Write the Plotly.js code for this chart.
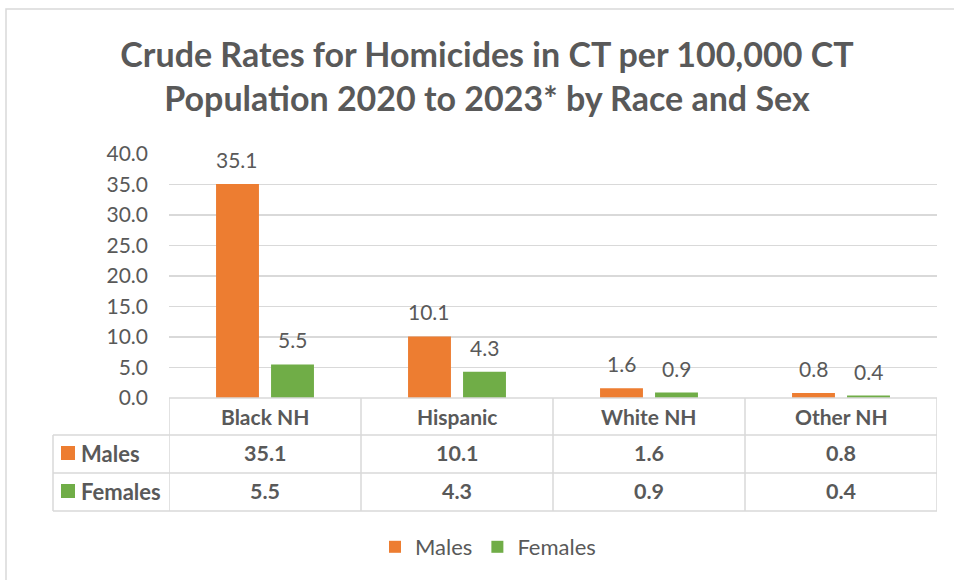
<!DOCTYPE html>
<html>
<head>
<meta charset="utf-8">
<script src="https://cdn.plot.ly/plotly-3.0.1.min.js"></script>
<style>html,body{margin:0;padding:0;background:#fff;}#chart{width:954px;height:580px;}</style>
</head>
<body>
<div id="chart"></div>
<script>
const categories = ["Black NH", "Hispanic", "White NH", "Other NH"];
const males = [35.1, 10.1, 1.6, 0.8];
const females = [5.5, 4.3, 0.9, 0.4];
const seriesNames = ["Males", "Females"];
const yTicks = [0, 5, 10, 15, 20, 25, 30, 35, 40];

const W = 954, H = 580;
const M = {l: 169, r: 17, t: 154, b: 182};
const PW = W - M.l - M.r, PH = H - M.t - M.b;
const xp = px => (px - M.l) / PW;
const yp = py => (H - M.b - py) / PH;

const ORANGE = "#ED7D31", GREEN = "#70AD47", TXT = "#595959", GRID = "#d9d9d9";
const FONT = "Lato, 'Open Sans', sans-serif";
const bargap = 0.427, bargroupgap = 0.22;
const catPx = PW / categories.length;
const slot = catPx * (1 - bargap) / 2;

const traces = [
  {type: "bar", name: seriesNames[0], x: categories, y: males, marker: {color: ORANGE}, hoverinfo: "none"},
  {type: "bar", name: seriesNames[1], x: categories, y: females, marker: {color: GREEN}, hoverinfo: "none"}
];

const annotations = [];
const series = [males, females];
series.forEach((vals, si) => {
  vals.forEach((v, ci) => {
    annotations.push({
      x: categories[ci], y: v, xref: "x", yref: "y",
      text: v.toFixed(1), showarrow: false, yanchor: "bottom",
      xshift: (si === 0 ? -1 : 1) * slot / 2, yshift: 10,
      font: {family: FONT, size: 21, color: TXT}
    });
  });
});
// table header labels
categories.forEach(c => {
  annotations.push({x: c, xref: "x", y: yp(416), yref: "paper", yanchor: "middle",
    text: "<b>" + c + "</b>", showarrow: false, font: {family: FONT, size: 21, color: TXT}});
});
// table values
const rowY = [453, 491];
series.forEach((vals, si) => {
  vals.forEach((v, ci) => {
    annotations.push({x: categories[ci], xref: "x", y: yp(rowY[si]), yref: "paper", yanchor: "middle",
      text: "<b>" + v.toFixed(1) + "</b>", showarrow: false, font: {family: FONT, size: 21.5, color: TXT}});
  });
  annotations.push({x: xp(79), xref: "paper", xanchor: "left", y: yp(rowY[si]), yref: "paper", yanchor: "middle",
    text: "<b>" + seriesNames[si] + "</b>", showarrow: false, font: {family: FONT, size: 22, color: TXT}});
});

const shapes = [];
const line = {color: GRID, width: 1.5};
// outer chart border
shapes.push({type: "rect", xref: "paper", yref: "paper", x0: xp(6), x1: xp(964), y0: yp(9), y1: yp(600), line: line, layer: "below"});
// table horizontal lines
shapes.push({type: "line", xref: "paper", yref: "paper", x0: 0, x1: 1, y0: 0, y1: 0, line: line});
[435, 473, 511].forEach(py => shapes.push({type: "line", xref: "paper", yref: "paper", x0: xp(53), x1: 1, y0: yp(py), y1: yp(py), line: line}));
// table vertical lines
for (let i = 0; i <= categories.length; i++) {
  shapes.push({type: "line", xref: "x", yref: "paper", x0: i - 0.5, x1: i - 0.5, y0: 0, y1: yp(511), line: line});
}
shapes.push({type: "line", xref: "paper", yref: "paper", x0: xp(53), x1: xp(53), y0: yp(435), y1: yp(511), line: line});
// row legend keys
[ORANGE, GREEN].forEach((col, si) => {
  shapes.push({type: "rect", xref: "paper", yref: "paper", x0: xp(61), x1: xp(75), y0: yp(rowY[si] - 7), y1: yp(rowY[si] + 7), fillcolor: col, line: {width: 0}});
});

const layout = {
  width: W, height: H,
  margin: M,
  paper_bgcolor: "#fff", plot_bgcolor: "#fff",
  font: {family: FONT, color: TXT},
  title: {
    text: "<b>Crude Rates for Homicides in CT per 100,000 CT<br>Population 2020 to 2023* by Race and Sex</b>",
    x: 487 / W, xanchor: "center", xref: "container",
    y: 1 - 67 / H, yanchor: "top", yref: "container",
    font: {family: FONT, size: 34, color: TXT}
  },
  barmode: "group", bargap: bargap, bargroupgap: bargroupgap,
  xaxis: {type: "category", range: [-0.5, categories.length - 0.5], showticklabels: false, showgrid: false, zeroline: false, showline: false, fixedrange: true},
  yaxis: {range: [0, 40], tickvals: yTicks, tickformat: ".1f", gridcolor: GRID, gridwidth: 1.5, zeroline: false, showline: false,
    ticks: "", ticklabelstandoff: 20, tickfont: {family: FONT, size: 21, color: TXT}, fixedrange: true},
  showlegend: true,
  legend: {orientation: "h", x: xp(488), xanchor: "center", y: yp(547), yanchor: "middle",
    font: {family: FONT, size: 22, color: TXT}, itemclick: false, itemdoubleclick: false},
  annotations: annotations,
  shapes: shapes
};

Plotly.newPlot("chart", traces, layout, {displayModeBar: false, staticPlot: true});
</script>
</body>
</html>
